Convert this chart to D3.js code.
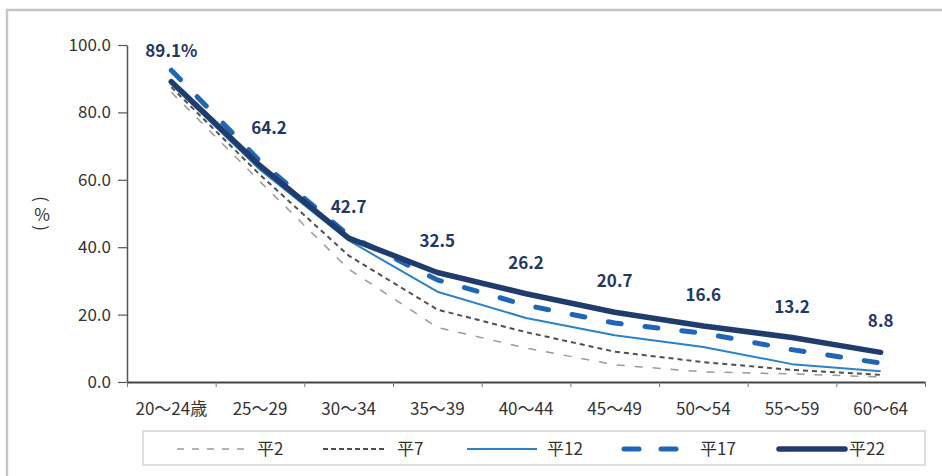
<!DOCTYPE html>
<html>
<head>
<meta charset="utf-8">
<script src="https://cdn.jsdelivr.net/npm/d3@7"></script>
<style>
  html, body { margin: 0; padding: 0; background: #fff; }
  svg { display: block; }
  text { font-family: "Noto Sans CJK JP", "Noto Sans", sans-serif; }
</style>
</head>
<body>
<svg id="chart" width="942" height="476"></svg>
<script>
// Age groups on the horizontal axis
const ageGroups = ["20～24歳", "25～29", "30～34", "35～39", "40～44", "45～49", "50～54", "55～59", "60～64"];

// Rate (%) by age group for each survey year
const seriesNames = ["平2", "平7", "平12", "平17", "平22"];
const h2  = [86.0, 59.5, 33.5, 16.2, 10.1, 5.1, 3.0, 2.4, 1.5];
const h7  = [87.5, 61.5, 37.5, 21.5, 14.8, 9.0, 5.9, 3.6, 2.1];
const h12 = [88.5, 63.0, 42.0, 26.8, 19.0, 13.9, 10.4, 5.3, 3.2];
const h17 = [92.5, 65.5, 43.5, 30.3, 22.8, 17.5, 14.5, 9.6, 5.6];
const h22 = [89.1, 64.2, 42.7, 32.5, 26.2, 20.7, 16.6, 13.2, 8.8];

const yTicks = [0, 20, 40, 60, 80, 100];

const svg = d3.select("#chart");
const fontSize = 17;

// outer frame
svg.append("rect")
  .attr("x", 7).attr("y", 10).attr("width", 960).attr("height", 500)
  .attr("fill", "#fff").attr("stroke", "#c4c4c4").attr("stroke-width", 2.5);

const plotLeft = 127, plotRight = 925, plotTop = 45, plotBottom = 382;

const x = d3.scaleBand().domain(ageGroups).range([plotLeft, plotRight]).paddingInner(0).paddingOuter(0);
const y = d3.scaleLinear().domain([0, 100]).range([plotBottom, plotTop]);
const cx = d => x(d) + x.bandwidth() / 2;

// y axis
const yAxis = svg.append("g")
  .attr("transform", `translate(${plotLeft},0)`)
  .call(d3.axisLeft(y).tickValues(yTicks).tickFormat(d3.format(".1f")).tickSize(9).tickSizeOuter(0).tickPadding(7));
yAxis.select(".domain").attr("stroke", "#555").attr("stroke-width", 1.5);
yAxis.selectAll(".tick line").attr("stroke", "#555").attr("stroke-width", 1.2);
yAxis.selectAll(".tick text").attr("fill", "#333").attr("font-size", fontSize);

// x axis: boundary ticks
const xb = d3.scaleLinear().domain([0, ageGroups.length]).range([plotLeft, plotRight]);
const xAxis = svg.append("g")
  .attr("transform", `translate(0,${plotBottom})`)
  .call(d3.axisBottom(xb).tickValues(d3.range(0, ageGroups.length + 1)).tickFormat("").tickSize(5).tickSizeOuter(0));
xAxis.select(".domain").attr("stroke", "#444").attr("stroke-width", 2);
xAxis.selectAll(".tick line").attr("stroke", "#777").attr("stroke-width", 1);

// x axis: category labels
const xLab = svg.append("g")
  .attr("transform", `translate(0,${plotBottom})`)
  .call(d3.axisBottom(x).tickSize(0).tickPadding(21));
xLab.select(".domain").remove();
xLab.selectAll(".tick text").attr("fill", "#333").attr("font-size", fontSize);

// unit label, written vertically: parentheses turned sideways around an upright %
const unit = svg.append("g").attr("fill", "#333").attr("font-size", fontSize)
  .attr("text-anchor", "middle").attr("dominant-baseline", "central");
unit.append("text").attr("transform", "translate(42,199) rotate(90)").text("(");
unit.append("text").attr("x", 42).attr("y", 213).text("%");
unit.append("text").attr("transform", "translate(42,228) rotate(90)").text(")");

// series styles
const styles = {
  "平2":  { data: h2,  color: "#9a9a9a", width: 1.5, dash: "8,10", legendDash: "7,8" },
  "平7":  { data: h7,  color: "#505050", width: 2,   dash: "5,4",  legendDash: "5,3" },
  "平12": { data: h12, color: "#2a82c8", width: 2,   dash: null,   legendDash: null },
  "平17": { data: h17, color: "#1f66b8", width: 5,   dash: "13,24", legendDash: "15,22" },
  "平22": { data: h22, color: "#203c6c", width: 5.5, dash: null,   legendDash: null }
};
const roundCap = name => name === "平17" || name === "平22" ? "round" : "butt";

const line = d3.line().x(d => cx(d.k)).y(d => y(d.v));

seriesNames.forEach(name => {
  const s = styles[name];
  const pts = ageGroups.map((k, i) => ({ k, v: s.data[i] }));
  svg.append("path")
    .datum(pts)
    .attr("d", line)
    .attr("fill", "none")
    .attr("stroke", s.color)
    .attr("stroke-width", s.width)
    .attr("stroke-linejoin", "round")
    .attr("stroke-linecap", roundCap(name))
    .attr("stroke-dasharray", s.dash);
});

// value labels for the latest year
svg.append("g").selectAll("text")
  .data(ageGroups.map((k, i) => ({ k, v: h22[i], i })))
  .join("text")
  .attr("x", d => cx(d.k) + (d.i === 1 ? 9 : 0))
  .attr("y", d => y(d.v) - (d.i === 1 ? 38 : 31) + 6)
  .attr("text-anchor", "middle")
  .attr("fill", "#1f3864")
  .attr("font-size", fontSize)
  .attr("font-weight", 700)
  .text(d => d.i === 0 ? d3.format(".1f")(d.v) + "%" : d3.format(".1f")(d.v));

// legend
const legend = svg.append("g");
legend.append("rect")
  .attr("x", 143).attr("y", 431).attr("width", 782).attr("height", 34)
  .attr("fill", "#fff").attr("stroke", "#d4d4d4").attr("stroke-width", 1.5);
const legendPos = { "平2": [177, 247, 257], "平7": [323, 387, 397], "平12": [467, 537, 547], "平17": [624, 680, 700], "平22": [779, 845, 849] };
seriesNames.forEach(name => {
  const s = styles[name];
  const [x1, x2, tx] = legendPos[name];
  legend.append("line")
    .attr("x1", x1).attr("x2", x2).attr("y1", 449).attr("y2", 449)
    .attr("stroke", s.color).attr("stroke-width", s.width)
    .attr("stroke-linecap", roundCap(name))
    .attr("stroke-dasharray", s.legendDash);
  legend.append("text")
    .attr("x", tx).attr("y", 455)
    .attr("fill", "#333").attr("font-size", fontSize)
    .text(name);
});
</script>
</body>
</html>
